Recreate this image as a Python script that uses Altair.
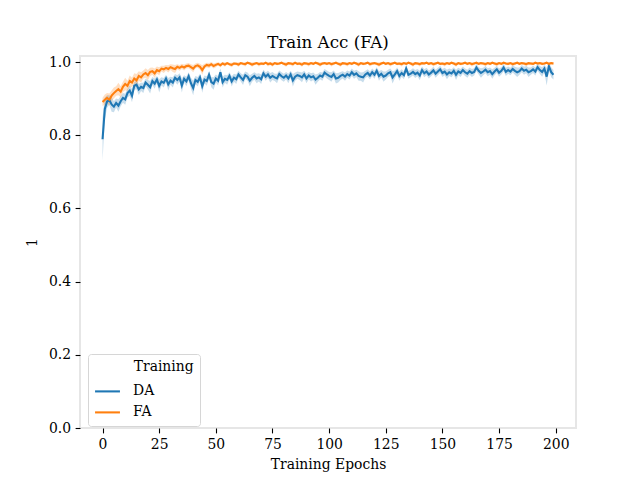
import altair as alt
import pandas as pd

epochs = list(range(200))

da_mean = [
    0.789, 0.872, 0.892, 0.896, 0.884, 0.878, 0.888, 0.881, 0.893, 0.902,
    0.898, 0.915, 0.922, 0.908, 0.935, 0.938, 0.925, 0.932, 0.929, 0.944,
    0.938, 0.931, 0.948, 0.941, 0.952, 0.935, 0.947, 0.943, 0.955, 0.939,
    0.949, 0.944, 0.957, 0.951, 0.958, 0.936, 0.954, 0.947, 0.961, 0.942,
    0.929, 0.951, 0.946, 0.958, 0.934, 0.952, 0.948, 0.965, 0.945, 0.941,
    0.955, 0.949, 0.972, 0.945, 0.954, 0.951, 0.962, 0.947, 0.957, 0.953,
    0.966, 0.958, 0.951, 0.964, 0.960, 0.949, 0.957, 0.962, 0.955, 0.958,
    0.953, 0.969, 0.960, 0.966, 0.957, 0.962, 0.958, 0.955, 0.967, 0.961,
    0.957, 0.963, 0.955, 0.966, 0.950, 0.960, 0.964, 0.962, 0.958, 0.966,
    0.955, 0.963, 0.958, 0.961, 0.952, 0.957, 0.963, 0.960, 0.971, 0.966,
    0.962, 0.959, 0.967, 0.955, 0.957, 0.962, 0.965, 0.960, 0.967, 0.963,
    0.972, 0.965, 0.969, 0.962, 0.960, 0.958, 0.966, 0.970, 0.963, 0.972,
    0.965, 0.976, 0.962, 0.968, 0.960, 0.963, 0.969, 0.972, 0.958, 0.966,
    0.975, 0.962, 0.970, 0.964, 0.982, 0.965, 0.968, 0.973, 0.967, 0.971,
    0.963, 0.978, 0.969, 0.974, 0.966, 0.971, 0.977, 0.968, 0.974, 0.980,
    0.970, 0.974, 0.966, 0.972, 0.969, 0.976, 0.965, 0.974, 0.970, 0.978,
    0.972, 0.968, 0.975, 0.970, 0.973, 0.985, 0.976, 0.970, 0.974, 0.979,
    0.972, 0.975, 0.967, 0.974, 0.980, 0.971, 0.976, 0.985, 0.973, 0.978,
    0.974, 0.981, 0.976, 0.972, 0.975, 0.982, 0.976, 0.979, 0.972, 0.975,
    0.980, 0.974, 0.986, 0.978, 0.973, 0.982, 0.960, 0.988, 0.972, 0.965,
]

da_ci = [
    0.058, 0.030, 0.017, 0.013, 0.020, 0.015, 0.012, 0.017, 0.014, 0.013,
    0.015, 0.012, 0.014, 0.018, 0.010, 0.013, 0.015, 0.011, 0.014, 0.010,
    0.013, 0.017, 0.011, 0.014, 0.010, 0.018, 0.011, 0.013, 0.010, 0.017,
    0.011, 0.014, 0.010, 0.013, 0.011, 0.019, 0.010, 0.013, 0.011, 0.015,
    0.020, 0.011, 0.013, 0.010, 0.018, 0.011, 0.013, 0.010, 0.014, 0.017,
    0.011, 0.013, 0.010, 0.015, 0.011, 0.013, 0.010, 0.014, 0.011, 0.013,
    0.010, 0.011, 0.014, 0.010, 0.011, 0.015, 0.011, 0.010, 0.013, 0.011,
    0.013, 0.010, 0.011, 0.010, 0.013, 0.011, 0.010, 0.013, 0.010, 0.011,
    0.011, 0.010, 0.013, 0.010, 0.017, 0.011, 0.010, 0.011, 0.013, 0.010,
    0.013, 0.010, 0.011, 0.010, 0.014, 0.011, 0.010, 0.011, 0.010, 0.011,
    0.011, 0.013, 0.010, 0.014, 0.013, 0.011, 0.010, 0.011, 0.010, 0.011,
    0.010, 0.011, 0.010, 0.013, 0.011, 0.014, 0.010, 0.010, 0.011, 0.010,
    0.011, 0.010, 0.013, 0.010, 0.014, 0.011, 0.010, 0.010, 0.017, 0.011,
    0.010, 0.013, 0.010, 0.011, 0.010, 0.011, 0.010, 0.010, 0.011, 0.010,
    0.013, 0.010, 0.011, 0.010, 0.011, 0.010, 0.010, 0.011, 0.010, 0.010,
    0.011, 0.010, 0.013, 0.010, 0.011, 0.010, 0.014, 0.010, 0.011, 0.010,
    0.010, 0.011, 0.010, 0.011, 0.010, 0.010, 0.010, 0.013, 0.010, 0.010,
    0.011, 0.010, 0.013, 0.010, 0.010, 0.011, 0.010, 0.010, 0.011, 0.010,
    0.010, 0.010, 0.011, 0.013, 0.010, 0.010, 0.011, 0.010, 0.013, 0.010,
    0.010, 0.011, 0.010, 0.011, 0.013, 0.010, 0.024, 0.011, 0.014, 0.013,
]

fa_mean = [
    0.891, 0.897, 0.902, 0.897, 0.908, 0.915, 0.921, 0.926, 0.919, 0.932,
    0.940, 0.935, 0.948, 0.944, 0.955, 0.950, 0.962, 0.958, 0.966, 0.970,
    0.964, 0.973, 0.975, 0.969, 0.978, 0.975, 0.982, 0.980, 0.984, 0.981,
    0.986, 0.983, 0.981, 0.987, 0.984, 0.988, 0.985, 0.989, 0.990, 0.986,
    0.982, 0.989, 0.991, 0.987, 0.978, 0.988, 0.992, 0.990, 0.994, 0.989,
    0.992, 0.995, 0.991, 0.996, 0.993, 0.997, 0.994, 0.992, 0.996, 0.995,
    0.993, 0.997, 0.995, 0.994, 0.998, 0.996, 0.993, 0.995, 0.997, 0.994,
    0.996, 0.995, 0.998, 0.994, 0.996, 0.993, 0.997, 0.995, 0.996, 0.998,
    0.995, 0.993, 0.997, 0.996, 0.994, 0.998, 0.995, 0.996, 0.993, 0.997,
    0.996, 0.994, 0.997, 0.995, 0.998, 0.996, 0.993, 0.996, 0.997, 0.995,
    0.997, 0.994, 0.996, 0.998, 0.995, 0.993, 0.997, 0.996, 0.994, 0.997,
    0.995, 0.998, 0.996, 0.993, 0.997, 0.995, 0.996, 0.998, 0.994, 0.996,
    0.997, 0.995, 0.993, 0.996, 0.998, 0.995, 0.997, 0.994, 0.996, 0.998,
    0.995, 0.996, 0.994, 0.997, 0.995, 0.998, 0.996, 0.993, 0.997, 0.996,
    0.994, 0.997, 0.996, 0.998, 0.995, 0.997, 0.994, 0.996, 0.998, 0.995,
    0.996, 0.994, 0.997, 0.995, 0.998, 0.996, 0.993, 0.997, 0.995, 0.996,
    0.998, 0.995, 0.997, 0.994, 0.996, 0.998, 0.995, 0.997, 0.996, 0.994,
    0.997, 0.995, 0.998, 0.996, 0.994, 0.997, 0.995, 0.998, 0.996, 0.995,
    0.997, 0.994, 0.996, 0.998, 0.995, 0.997, 0.996, 0.994, 0.997, 0.996,
    0.995, 0.998, 0.996, 0.997, 0.995, 0.996, 0.998, 0.995, 0.997, 0.996,
]

fa_ci = [
    0.011, 0.014, 0.013, 0.017, 0.014, 0.015, 0.013, 0.017, 0.015, 0.014,
    0.017, 0.014, 0.015, 0.013, 0.014, 0.017, 0.013, 0.014, 0.011, 0.013,
    0.014, 0.011, 0.010, 0.013, 0.010, 0.011, 0.008, 0.010, 0.008, 0.010,
    0.008, 0.010, 0.011, 0.007, 0.008, 0.007, 0.008, 0.007, 0.007, 0.008,
    0.010, 0.007, 0.007, 0.008, 0.013, 0.007, 0.006, 0.007, 0.006, 0.007,
    0.006, 0.004, 0.006, 0.004, 0.006, 0.004, 0.004, 0.006, 0.004, 0.004,
    0.006, 0.004, 0.004, 0.006, 0.003, 0.004, 0.006, 0.004, 0.004, 0.006,
    0.004, 0.004, 0.003, 0.006, 0.004, 0.006, 0.004, 0.004, 0.004, 0.003,
    0.004, 0.006, 0.004, 0.004, 0.006, 0.003, 0.004, 0.004, 0.006, 0.004,
    0.004, 0.006, 0.004, 0.004, 0.003, 0.004, 0.006, 0.004, 0.004, 0.004,
    0.004, 0.006, 0.004, 0.003, 0.004, 0.006, 0.004, 0.004, 0.006, 0.004,
    0.004, 0.003, 0.004, 0.006, 0.004, 0.004, 0.004, 0.003, 0.006, 0.004,
    0.004, 0.004, 0.006, 0.004, 0.003, 0.004, 0.004, 0.006, 0.004, 0.003,
    0.004, 0.004, 0.006, 0.004, 0.004, 0.003, 0.004, 0.006, 0.004, 0.004,
    0.006, 0.004, 0.004, 0.003, 0.004, 0.004, 0.006, 0.004, 0.003, 0.004,
    0.004, 0.006, 0.004, 0.004, 0.003, 0.004, 0.006, 0.004, 0.004, 0.004,
    0.003, 0.004, 0.004, 0.006, 0.004, 0.003, 0.004, 0.004, 0.004, 0.006,
    0.004, 0.004, 0.003, 0.004, 0.006, 0.004, 0.004, 0.003, 0.004, 0.004,
    0.004, 0.006, 0.004, 0.003, 0.004, 0.004, 0.004, 0.006, 0.004, 0.004,
    0.004, 0.003, 0.004, 0.004, 0.004, 0.004, 0.003, 0.004, 0.004, 0.004,
]

series = ["DA", "FA"]
colors = ["#1f77b4", "#ff7f0e"]

rows = []
for name, means, cis in [("DA", da_mean, da_ci), ("FA", fa_mean, fa_ci)]:
    for e, m, c in zip(epochs, means, cis):
        rows.append({"epoch": e, "Training": name, "band_group": name, "value": m,
                     "lo": m - c, "hi": min(m + c, 1.0)})
df = pd.DataFrame(rows)

FONT = "DejaVu Serif"

xscale = alt.Scale(domain=[-9.95, 208.95], nice=False, zero=False)
yscale = alt.Scale(domain=[0, 1.0164], nice=False)

base = alt.Chart(df)

band = base.mark_area(opacity=0.25, clip=True).encode(
    x=alt.X("epoch:Q", scale=xscale),
    y=alt.Y("lo:Q", scale=yscale),
    y2="hi:Q",
    fill=alt.Fill("band_group:N", scale=alt.Scale(domain=series, range=colors), legend=None),
)

line = base.mark_line(strokeWidth=2.08, clip=True).encode(
    x=alt.X("epoch:Q", scale=xscale,
            axis=alt.Axis(title="Training Epochs", values=[0, 25, 50, 75, 100, 125, 150, 175, 200])),
    y=alt.Y("value:Q", scale=yscale,
            axis=alt.Axis(title="1", values=[0, 0.2, 0.4, 0.6, 0.8, 1.0], format=".1f")),
    color=alt.Color(
        "Training:N", scale=alt.Scale(domain=series, range=colors),
        legend=alt.Legend(
            title="\u200b" + "\u00a0" * 9 + "Training",
            orient="none", legendX=8, legendY=298,
            symbolType="stroke", symbolSize=620, symbolStrokeWidth=2.08,
            labelFont=FONT, labelFontSize=13.9, labelColor="black",
            titleFont=FONT, titleFontSize=13.9, titleFontWeight="normal", titleColor="black",
            padding=6, rowPadding=-2, titlePadding=4, labelOffset=12,
            strokeColor="#d6d6d6", fillColor="rgba(255,255,255,0.8)", cornerRadius=3,
        ),
    ),
)

chart = alt.layer(band, line).resolve_scale(color="independent").properties(
    width=496, height=372,
    title=alt.Title("Train Acc (FA)", font=FONT, fontSize=16.7, fontWeight="normal",
                    color="black", offset=3),
    padding={"left": 72, "top": 48, "right": 56, "bottom": 44},
    autosize=alt.AutoSizeParams(type="none"),
).configure_view(
    stroke="#e6e6e6", strokeWidth=2,
).configure_axis(
    grid=False, domain=False,
    labelFont=FONT, labelFontSize=13.9, labelColor="black",
    titleFont=FONT, titleFontSize=13.9, titleFontWeight="normal", titleColor="black",
    tickColor="black", tickSize=4.9, tickWidth=1.1, labelPadding=4.5,
).configure_axisX(titlePadding=6).configure_axisY(titlePadding=9)

chart.save("out.html", embed_options={"renderer": "svg", "actions": False})
